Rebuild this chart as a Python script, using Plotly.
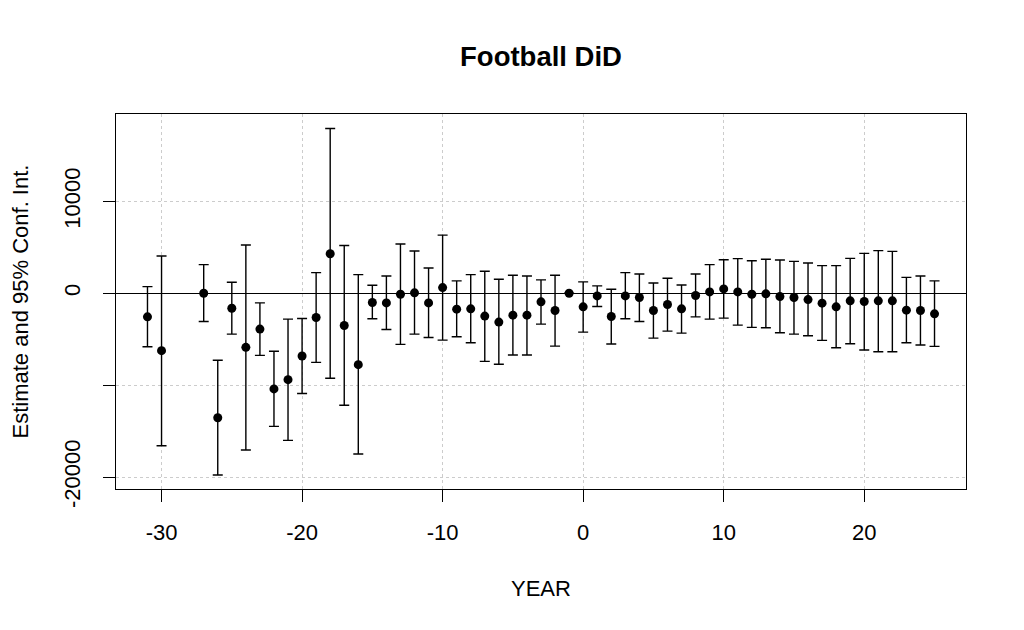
import plotly.graph_objects as go

years = [-31, -30, -27, -26, -25, -24, -23, -22, -21, -20, -19, -18, -17, -16,
         -15, -14, -13, -12, -11, -10, -9, -8, -7, -6, -5, -4, -3, -2, -1,
         0, 1, 2, 3, 4, 5, 6, 7, 8, 9, 10, 11, 12, 13, 14, 15, 16, 17, 18,
         19, 20, 21, 22, 23, 24, 25]

estimate = [-2570, -6250, 0, -13550, -1630, -5890, -3900, -10410, -9400, -6830,
            -2640, 4300, -3510, -7770, -1010, -1050, -110, 40, -1050, 610,
            -1730, -1700, -2490, -3140, -2390, -2390, -940, -1880, 0,
            -1480, -290, -2530, -290, -470, -1880, -1230, -1700, -250, 140,
            470, 140, -110, -70, -360, -470, -690, -1080, -1480, -830, -900,
            -830, -830, -1840, -1880, -2240]

upper = [720, 4050, 3110, -7300, 1190, 5240, -1050, -6320, -2820, -2750,
         2240, 17930, 5200, 2020, 870, 1880, 5350, 4590, 2750, 6320,
         1340, 2020, 2390, 1520, 1950, 1880, 1450, 1950, None,
         1230, 800, 430, 2240, 2100, 1120, 1630, 900, 2100, 3110,
         3650, 3760, 3540, 3690, 3610, 3470, 3290, 3000, 3000, 3790, 4340,
         4630, 4550, 1730, 1880, 1340]

lower = [-5820, -16590, -3070, -19770, -4450, -17060, -6760, -14490, -16010, -10910,
         -7520, -9250, -12180, -17490, -2780, -3940, -5570, -4450, -4810, -5100,
         -4730, -5390, -7410, -7730, -6720, -6720, -3360, -5750, None,
         -4230, -1450, -5530, -2780, -3070, -4880, -4120, -4340, -2570, -2820,
         -2710, -3470, -3720, -3760, -4300, -4450, -4630, -5130, -5930, -5490, -6180,
         -6360, -6360, -5390, -5640, -5780]

x_ticks = [-30, -20, -10, 0, 10, 20]
x_tick_labels = ["-30", "-20", "-10", "0", "10", "20"]
y_ticks = [-20000, -10000, 0, 10000]
y_tick_labels = ["-20000", "", "0", "10000"]

err_plus = [None if u is None else u - e for u, e in zip(upper, estimate)]
err_minus = [None if l is None else e - l for l, e in zip(lower, estimate)]

FONT = "Liberation Sans, Arial, Helvetica, sans-serif"
W, H = 1016, 622

fig = go.Figure()
fig.add_trace(go.Scatter(
    x=years, y=estimate, mode="markers",
    marker=dict(color="black", size=9),
    error_y=dict(type="data", symmetric=False, array=err_plus, arrayminus=err_minus,
                 color="black", thickness=1.4, width=5),
    showlegend=False, hoverinfo="x+y",
))

fig.update_layout(
    width=W, height=H,
    margin=dict(l=108, r=58, t=106, b=141),
    paper_bgcolor="white", plot_bgcolor="white",
    font=dict(family=FONT, size=22, color="black"),
    title=dict(text="<b>Football DiD</b>", x=533 / W, xanchor="center",
               y=1 - 48 / H, yanchor="middle",
               font=dict(family=FONT, size=27.5, color="black")),
    xaxis=dict(range=[-33.24, 27.24], tickvals=x_ticks, ticktext=x_tick_labels,
               ticks="outside", ticklen=12,
               tickcolor="black", tickwidth=1, showline=True, mirror=True,
               linecolor="black", linewidth=1, showgrid=True, gridcolor="#cccccc",
               griddash="dot", gridwidth=1, zeroline=False, ticklabelstandoff=12,
               tickfont=dict(size=22)),
    yaxis=dict(range=[-21300, 19500], tickvals=y_ticks, ticktext=y_tick_labels,
               ticks="outside", ticklen=12, tickangle=-90,
               tickcolor="black", tickwidth=1, showline=True, mirror=True,
               linecolor="black", linewidth=1, showgrid=True, gridcolor="#cccccc",
               griddash="dot", gridwidth=1, zeroline=True, zerolinecolor="black",
               zerolinewidth=1, ticklabelstandoff=14, tickfont=dict(size=22)),
    annotations=[
        dict(text="YEAR", xref="paper", yref="paper", x=0.5, y=0,
             xanchor="center", yanchor="middle", yshift=-99, showarrow=False,
             font=dict(size=22)),
        dict(text="Estimate and 95% Conf. Int.", xref="paper", yref="paper",
             x=0, y=0.5, xanchor="center", yanchor="middle", xshift=-96,
             textangle=-90, showarrow=False, font=dict(size=22)),
    ],
)

fig.write_html("out.html")
